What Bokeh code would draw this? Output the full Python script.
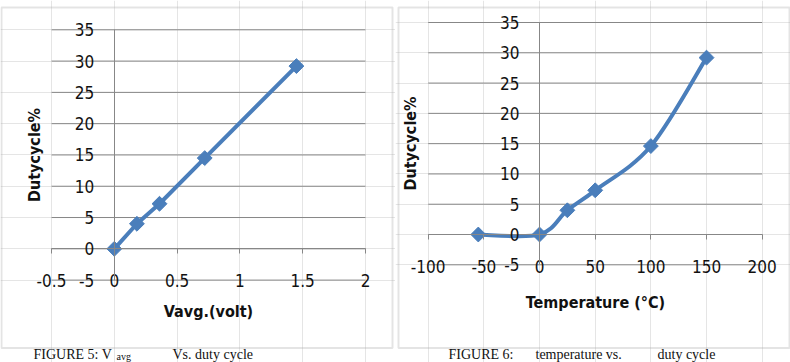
import numpy as np
from bokeh.plotting import figure
from bokeh.layouts import row
from bokeh.models import BoxAnnotation, FixedTicker, Label, LinearAxis, Range1d
from bokeh.embed import file_html
from bokeh.resources import INLINE

# ---------------- data ----------------
vavg = [0.0, 0.18, 0.36, 0.72, 1.45]
duty_v = [0.0, 4.0, 7.2, 14.5, 29.2]

temperature = [-55, 0, 25, 50, 100, 150]
duty_t = [0.0, 0.0, 4.0, 7.3, 14.6, 29.2]

y_ticks = [-5, 0, 5, 10, 15, 20, 25, 30, 35]
y_tick_labels = ["-5", "0", "5", "10", "15", "20", "25", "30", "35"]
x1_ticks = [-0.5, 0.0, 0.5, 1.0, 1.5, 2.0]
x1_tick_labels = ["-0.5", "0", "0.5", "1", "1.5", "2"]
x2_ticks = [-100, -50, 0, 50, 100, 150, 200]
x2_tick_labels = ["-100", "-50", "0", "50", "100", "150", "200"]

y_title = "Dutycycle%"
x1_title = "Vavg.(volt)"
x2_title = "Temperature (°C)"
caption1 = ["FIGURE  5: V", "avg", "Vs. duty cycle"]
caption2 = ["FIGURE 6:", "temperature vs.", "duty cycle"]

# ---------------- layout / styles ----------------
H = 362
BLUE = "#4A7EBB"
GRID = "#878787"
BORDER = "#a6a6a6"
TICK_FONT = "DejaVu Sans Condensed, DejaVu Sans"
TITLE_FONT = "DejaVu Sans Condensed, DejaVu Sans"
CAP_FONT = "Liberation Serif"


def make_panel(W, box, area, x_ticks, x_labels, x_title, x_title_standoff,
               y_title_standoff, caption, caption_px):
    bl, br, bt, bb = box            # panel border, canvas pixels
    ax_lo, ax_hi, ay_top, ay_bot = area   # plot area, canvas pixels
    xmin, xmax = x_ticks[0], x_ticks[-1]
    ymin, ymax = y_ticks[0], y_ticks[-1]
    kx = (ax_hi - ax_lo) / (xmax - xmin)
    ky = (ay_bot - ay_top) / (ymax - ymin)
    x0 = xmin - ax_lo / kx
    x1 = xmax + (W - ax_hi) / kx
    y0 = ymin - (H - ay_bot) / ky
    y1 = ymax + ay_top / ky

    def px_x(px):
        return x0 + px / kx

    def px_y(py):
        return y0 + (H - py) / ky

    p = figure(width=W, height=H, output_backend="svg", toolbar_location=None,
               x_range=Range1d(x0, x1), y_range=Range1d(y0, y1),
               x_axis_location=None, y_axis_location=None, title=None,
               min_border_left=0, min_border_right=0,
               min_border_top=0, min_border_bottom=0)
    p.background_fill_color = "white"
    p.border_fill_color = "white"
    p.outline_line_color = None

    # panel border
    p.add_layout(BoxAnnotation(left=px_x(bl), right=px_x(br),
                               top=px_y(bt), bottom=px_y(bb),
                               fill_alpha=0, line_color=BORDER, line_width=2))

    # horizontal gridlines
    n = len(y_ticks)
    p.segment(x0=[xmin] * n, y0=y_ticks, x1=[xmax] * n, y1=y_ticks,
              line_color=GRID, line_width=1)

    yax = LinearAxis(fixed_location=0, bounds=(ymin, ymax),
                     ticker=FixedTicker(ticks=y_ticks),
                     major_label_overrides=dict(zip(y_ticks, y_tick_labels)),
                     major_tick_out=0, major_tick_in=0,
                     minor_tick_out=0, minor_tick_in=0,
                     axis_line_color=GRID, axis_line_width=1,
                     major_label_standoff=20,
                     major_label_text_font=TICK_FONT,
                     major_label_text_font_size="17px",
                     major_label_text_color="#111111",
                     axis_label=y_title,
                     axis_label_standoff=y_title_standoff,
                     axis_label_text_font=TITLE_FONT,
                     axis_label_text_font_style="bold",
                     axis_label_text_font_size="16px",
                     axis_label_text_color="#111111")
    p.add_layout(yax, "left")

    xax = LinearAxis(fixed_location=0, bounds=(xmin, xmax),
                     ticker=FixedTicker(ticks=x_ticks),
                     major_label_overrides=dict(zip(x_ticks, x_labels)),
                     major_tick_out=5, major_tick_in=0,
                     minor_tick_out=0, minor_tick_in=0,
                     major_tick_line_color=GRID,
                     axis_line_color=GRID, axis_line_width=1,
                     major_label_standoff=20,
                     major_label_text_font=TICK_FONT,
                     major_label_text_font_size="17px",
                     major_label_text_color="#111111",
                     axis_label=x_title,
                     axis_label_standoff=x_title_standoff,
                     axis_label_text_font=TITLE_FONT,
                     axis_label_text_font_style="bold",
                     axis_label_text_font_size="16px",
                     axis_label_text_color="#111111")
    p.add_layout(xax, "below")

    # figure caption under the panel
    for text, px in zip(caption, caption_px):
        sub = text == "avg"
        p.add_layout(Label(x=px_x(px), y=px_y(355.5 if sub else 354), text=text,
                           text_font=CAP_FONT,
                           text_font_size="10px" if sub else "14px",
                           text_color="#111111",
                           text_baseline="alphabetic", text_align="left"))
    return p


# ---------------- left panel ----------------
p1 = make_panel(395, (1, 392, 7, 347.5), (51, 365, 29.3, 279.6),
                x1_ticks, x1_tick_labels, x1_title, 12, 28,
                caption1, [33, 116, 172])
p1.line(vavg, duty_v, line_color=BLUE, line_width=4, line_join="round")
p1.scatter(vavg, duty_v, marker="square", angle=np.pi / 4, size=10.5,
           fill_color=BLUE, line_color=BLUE)

# ---------------- right panel ----------------
p2 = make_panel(395, (3, 394, 7, 347.5), (32.7, 366.7, 22, 264.3),
                x2_ticks, x2_tick_labels, x2_title, 17, 77,
                caption2, [53, 140, 262])

# smoothed line (Catmull-Rom as cubic Bezier segments, like a spreadsheet "smoothed line")
tx = np.array(temperature, dtype=float)
ty = np.array(duty_t, dtype=float)
px_ = np.concatenate([[tx[0]], tx, [tx[-1]]])
py_ = np.concatenate([[ty[0]], ty, [ty[-1]]])
m = len(tx) - 1
cx0 = px_[1:m + 1] + (px_[2:m + 2] - px_[0:m]) / 6.0
cy0 = py_[1:m + 1] + (py_[2:m + 2] - py_[0:m]) / 6.0
cx1 = px_[2:m + 2] - (px_[3:m + 3] - px_[1:m + 1]) / 6.0
cy1 = py_[2:m + 2] - (py_[3:m + 3] - py_[1:m + 1]) / 6.0
p2.bezier(x0=tx[:-1], y0=ty[:-1], x1=tx[1:], y1=ty[1:],
          cx0=cx0, cy0=cy0, cx1=cx1, cy1=cy1,
          line_color=BLUE, line_width=4, line_cap="round")
p2.scatter(temperature, duty_t, marker="square", angle=np.pi / 4, size=10.5,
           fill_color=BLUE, line_color=BLUE)

layout = row(p1, p2)
open("out.html", "w").write(file_html(layout, INLINE))
